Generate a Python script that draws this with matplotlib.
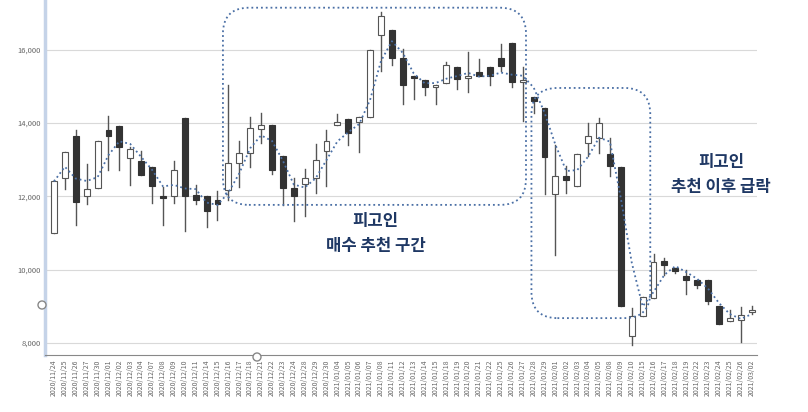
import matplotlib
matplotlib.use("Agg")
import matplotlib.pyplot as plt
import numpy as np
import pandas as pd
from matplotlib.patches import FancyBboxPatch, Rectangle, Circle

plt.rcParams['font.family'] = ['Noto Sans CJK KR', 'DejaVu Sans']

dates = ["2020/11/24", "2020/11/25", "2020/11/26", "2020/11/27", "2020/11/30",
         "2020/12/01", "2020/12/02", "2020/12/03", "2020/12/04", "2020/12/07",
         "2020/12/08", "2020/12/09", "2020/12/10", "2020/12/11", "2020/12/14",
         "2020/12/15", "2020/12/16", "2020/12/17", "2020/12/18", "2020/12/21",
         "2020/12/22", "2020/12/23", "2020/12/24", "2020/12/28", "2020/12/29",
         "2020/12/30", "2021/01/04", "2021/01/05", "2021/01/06", "2021/01/07",
         "2021/01/08", "2021/01/11", "2021/01/12", "2021/01/13", "2021/01/14",
         "2021/01/15", "2021/01/18", "2021/01/19", "2021/01/20", "2021/01/21",
         "2021/01/22", "2021/01/25", "2021/01/26", "2021/01/27", "2021/01/28",
         "2021/01/29", "2021/02/01", "2021/02/02", "2021/02/03", "2021/02/04",
         "2021/02/05", "2021/02/08", "2021/02/09", "2021/02/10", "2021/02/15",
         "2021/02/16", "2021/02/17", "2021/02/18", "2021/02/19", "2021/02/22",
         "2021/02/23", "2021/02/24", "2021/02/25", "2021/02/26", "2021/03/02"]

opens = [11000, 12500, 13650, 12000, 12230, 13800, 13910, 13045, 12955, 12800,
         12000, 12000, 14150, 12045, 12000, 11910, 12170, 12920, 13190, 13840,
         13950, 13100, 12240, 12330, 12490, 13240, 13945, 14110, 14020, 14170,
         16400, 16550, 15790, 15300, 15190, 14990, 15100, 15540, 15240, 15390,
         15540, 15790, 16200, 15130, 14720, 14410, 12070, 12550, 12290, 13450,
         13590, 13160, 12800, 8200, 8740, 9230, 10230, 10050, 9840, 9710,
         9710, 9020, 8590, 8620, 8840]
closes = [12410, 13210, 11845, 12210, 13520, 13650, 13345, 13300, 12590, 12290,
          11945, 12710, 12000, 11890, 11610, 11800, 12900, 13190, 13860, 13950,
          12735, 12240, 12000, 12490, 12990, 13500, 14020, 13740, 14170, 16000,
          16920, 15790, 15040, 15240, 14990, 15050, 15600, 15210, 15300, 15300,
          15280, 15560, 15130, 15190, 14600, 13080, 12550, 12450, 13160, 13650,
          14000, 12840, 9020, 8730, 9250, 10200, 10140, 9960, 9710, 9590,
          9160, 8530, 8680, 8770, 8910]
highs = [12450, 13210, 13800, 12890, 13520, 14200, 13910, 13360, 13230, 12800,
         12270, 12955, 14150, 12320, 12000, 12140, 15030, 13500, 14180, 14290,
         13950, 13100, 12490, 12760, 13420, 13800, 14260, 14110, 14170, 16000,
         17040, 16550, 16020, 15300, 15190, 15050, 15670, 15540, 15940, 15740,
         15540, 16150, 16200, 15540, 14720, 14410, 13400, 12820, 13160, 14000,
         14140, 13590, 12800, 8950, 9250, 10440, 10320, 10050, 10000, 9710,
         9710, 9020, 8910, 8980, 9020]
lows = [11000, 12210, 11210, 11800, 12230, 12730, 12710, 12300, 12590, 11820,
        11210, 11820, 11070, 11800, 11180, 11360, 11890, 12260, 12810, 13450,
        12625, 11780, 11340, 11480, 12090, 12280, 13945, 13400, 13200, 14170,
        15420, 15590, 14530, 14670, 14780, 14530, 15100, 14940, 14840, 15300,
        15030, 15420, 14990, 14070, 14280, 12060, 10400, 12090, 12290, 13090,
        13180, 12560, 9020, 7950, 8740, 9230, 9860, 9910, 9350, 9500,
        9070, 8530, 8590, 8020, 8800]

trend = pd.Series(closes).rolling(3, min_periods=1).mean()

fig = plt.figure(figsize=(8.08, 4.12), dpi=100)
ax = fig.add_axes([0.056, 0.138, 0.881, 0.862])
x = np.arange(len(dates))

for i in x:
    o, c, h, l = opens[i], closes[i], highs[i], lows[i]
    ax.plot([i, i], [l, h], color="#555555", lw=1.0, zorder=2)
    up = c >= o
    bottom, height = min(o, c), max(abs(c - o), 40)
    ax.add_patch(Rectangle((i - 0.27, bottom), 0.54, height,
                           facecolor="white" if up else "#333333",
                           edgecolor="#555555" if up else "#333333",
                           lw=0.8, zorder=3))

ax.plot(x, trend, ":", color="#4a6fa5", lw=1.3, zorder=4)

ax.set_xlim(-0.8, 64.5)
ax.set_ylim(7670, 17360)
ax.set_yticks([8000, 10000, 12000, 14000, 16000])
ax.set_yticklabels([f"{v:,}" for v in [8000, 10000, 12000, 14000, 16000]],
                   fontsize=5.5, color="#666666")
ax.set_xticks(x)
ax.set_xticklabels(dates, rotation=90, fontsize=5, color="#666666")
ax.tick_params(length=0, pad=3)
ax.grid(axis="y", color="#d9d9d9", lw=0.8)
ax.set_axisbelow(True)
for s in ["top", "right"]:
    ax.spines[s].set_visible(False)
ax.spines["bottom"].set_color("#888888")
ax.spines["left"].set_color("#c5d3e8")
ax.spines["left"].set_linewidth(2.5)

# highlight boxes (drawn in pixel coordinates so corners stay round)
def rbox(x0, y0, x1, y1):
    p0 = ax.transData.transform((x0, y0))
    p1 = ax.transData.transform((x1, y1))
    fig.patches.append(FancyBboxPatch((p0[0], p0[1]), p1[0] - p0[0], p1[1] - p0[1],
                                      boxstyle="round,pad=0,rounding_size=26",
                                      transform=None, fill=False, ls=":",
                                      ec="#4a6fa5", lw=1.3, figure=fig))

rbox(15.5, 11770, 43.3, 17150)
rbox(43.8, 8680, 54.7, 14960)

ax.text(29.5, 11000, "피고인\n매수 추천 구간", ha="center", va="center",
        fontsize=12, color="#1f3864", fontweight="bold", linespacing=1.5)
ax.text(61.2, 12600, "피고인\n추천 이후 급락", ha="center", va="center",
        fontsize=12, color="#1f3864", fontweight="bold", linespacing=1.5)

# small handle circles on the axes
fig.patches.append(Circle((42, 412 - 305), 4, transform=None, fc="white",
                          ec="#888888", lw=1, figure=fig))
fig.patches.append(Circle((257, 412 - 357), 4, transform=None, fc="white",
                          ec="#888888", lw=1, figure=fig))

fig.savefig("out.png", dpi=100)
